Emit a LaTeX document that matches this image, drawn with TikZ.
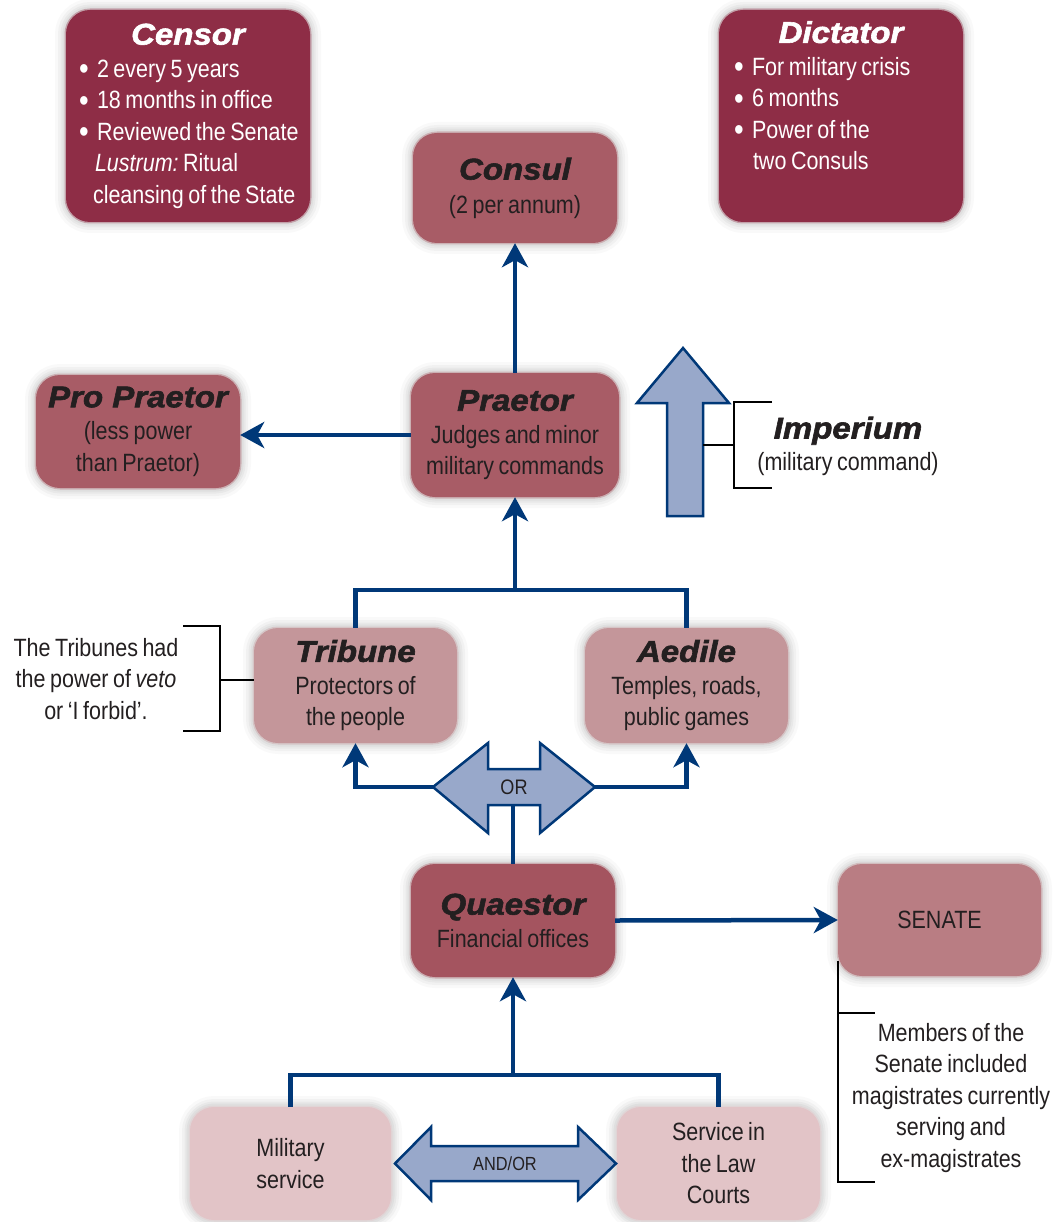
\documentclass[tikz,border=0pt]{standalone}
\usepackage{fontspec}
\setmainfont{Liberation Sans}[FakeStretch=0.86,WordSpace=0.76]
\newfontfamily\headfont{Liberation Sans}[FakeStretch=1.1,FakeBold=2]
\usetikzlibrary{arrows.meta,calc}
\frenchspacing

\definecolor{crimson}{HTML}{8E2D46}
\definecolor{rose}{HTML}{A85C66}
\definecolor{roseq}{HTML}{A4545F}
\definecolor{pinkmid}{HTML}{C4969A}
\definecolor{senatec}{HTML}{B97D83}
\definecolor{pinklight}{HTML}{E2C4C7}
\definecolor{navy}{HTML}{003878}
\definecolor{slate}{HTML}{98A8CA}
\definecolor{ink}{HTML}{231F20}

\newcommand{\hd}[1]{{\headfont\bfseries\itshape\fontsize{30}{34}\selectfont #1}}
\newcommand{\bodyfs}{\fontsize{25}{31.5}\selectfont}
\newcommand{\bul}{\makebox[18pt][l]{\raisebox{-2.5pt}{\fontsize{32}{31}\selectfont\textbullet}}}

\begin{document}
\begin{tikzpicture}[x=1pt,y=-1pt,
  halo/.style={
    preaction={draw=black, draw opacity=0.025, line width=22pt},
    preaction={draw=black, draw opacity=0.03, line width=16pt},
    preaction={draw=black, draw opacity=0.035, line width=11pt},
    preaction={draw=black, draw opacity=0.04, line width=7pt}},
  magbox/.style={halo, preaction={draw=#1, draw opacity=0.35, line width=3pt},
    fill=#1, rectangle, rounded corners=24pt, inner sep=0pt,
    align=center, text=ink, font=\bodyfs},
  navyline/.style={draw=navy, line width=4.5pt},
  conn/.style={navyline, -{Stealth[length=24pt,width=26pt,inset=7pt]}},
  bracket/.style={draw=black, line width=2.2pt},
  blockarrow/.style={draw=navy, fill=slate, line width=2.5pt, line join=miter},
  note/.style={align=center, text=ink, font=\bodyfs, inner sep=0pt}]
\useasboundingbox (0,0) rectangle (1056,1222);

% ---- offices ----
\node[magbox=crimson, text=white, minimum width=244pt, minimum height=212pt,
      text width=240pt, align=left] (censor) at (188,116)
  {\spaceskip=0pt\xspaceskip=0pt\relax
   \hfill\hd{Censor}\hfill\null\\[1pt]
   \hspace*{11pt}\bul 2 every 5 years\\
   \hspace*{11pt}\bul 18 months in office\\
   \hspace*{11pt}\bul Reviewed the Senate\\
   \hspace*{27pt}\textit{Lustrum:} Ritual\\
   \hspace*{25pt}cleansing of the State};

\node[magbox=crimson, text=white, minimum width=244pt, minimum height=212pt,
      text width=240pt, align=left] (dictator) at (841,116)
  {\spaceskip=0pt\xspaceskip=0pt\relax
   \hfill\hd{Dictator}\hfill\null\\[1pt]
   \hspace*{13pt}\bul For military crisis\\
   \hspace*{13pt}\bul 6 months\\
   \hspace*{13pt}\bul Power of the\\
   \hspace*{32pt}two Consuls\\
   \strut};

\node[magbox=rose, minimum width=204pt, minimum height=110pt] (consul) at (515,188)
  {\hd{Consul}\\[2pt](2 per annum)};

\node[magbox=rose, minimum width=208pt, minimum height=124pt] (praetor) at (515,435)
  {\hd{Praetor}\\[1pt]Judges and minor\\military commands};

\node[magbox=rose, minimum width=204pt, minimum height=113pt] (propraetor) at (138,431.5)
  {\hd{Pro Praetor}\\[1pt](less power\\than Praetor)};

\node[magbox=pinkmid, minimum width=203pt, minimum height=115pt] (tribune) at (355.5,685.5)
  {\hd{Tribune}\\[1pt]Protectors of\\the people};

\node[magbox=pinkmid, minimum width=203pt, minimum height=115pt] (aedile) at (686.5,685.5)
  {\hd{Aedile}\\[1pt]Temples, roads,\\public games};

\node[magbox=roseq, minimum width=204pt, minimum height=113pt] (quaestor) at (513,920.5)
  {\hd{Quaestor}\\[1pt]Financial offices};

\node[magbox=senatec, minimum width=203pt, minimum height=112pt] (senate) at (939.5,920)
  {SENATE};

\node[magbox=pinklight, minimum width=201pt, minimum height=113pt] (military) at (290.5,1163.5)
  {Military\\service};

\node[magbox=pinklight, minimum width=203pt, minimum height=113pt] (courts) at (718.5,1163.5)
  {Service in\\the Law\\Courts};

% ---- connectors ----
\coordinate (upfork) at (515,590);
\coordinate (lowfork) at (513,1075);
\coordinate (orL) at (433,787);
\coordinate (orR) at (595,787);
\coordinate (orB) at (513,805);

\draw[conn] (praetor.north) -- (consul.south);
\draw[conn] (praetor.west) -- (praetor.west -| propraetor.east);
\draw[navyline] (tribune.north) |- (upfork) -| (aedile.north);
\draw[conn] (upfork) -- (praetor.south);
\draw[conn] (orL) -| (tribune.south);
\draw[conn] (orR) -| (aedile.south);
\draw[navyline] (quaestor.north) -- (orB);
\draw[conn] (quaestor.east) -- (senate.west);
\draw[navyline] (military.north) |- (lowfork) -| (courts.north);
\draw[conn] (lowfork) -- (quaestor.south);

% ---- block arrows ----
\draw[blockarrow] (667,516) -- (667,403) -- (637,403) -- (683,348) -- (729,403)
  -- (703,403) -- (703,516) -- cycle;
\draw[blockarrow] (433,787) -- (488,743) -- (488,769) -- (540,769) -- (540,743)
  -- (595,787) -- (540,833) -- (540,805) -- (488,805) -- (488,833) -- cycle;
\node[note, font=\fontsize{21}{24}\selectfont] (ortext) at (514,787) {OR};
\draw[blockarrow] (395,1163.5) -- (431,1127) -- (431,1146) -- (578,1146) -- (578,1127)
  -- (616,1163.5) -- (578,1200) -- (578,1181) -- (431,1181) -- (431,1200) -- cycle;
\node[note, font=\fontsize{19}{23}\selectfont] (andor) at (505,1163.5) {AND/OR};

% ---- side notes ----
\draw[bracket] (772,402) -- (734,402) -- (734,488) -- (772,488);
\draw[bracket] (703,445) -- (734,445);
\node[note] (imperium) at (848,446) {\hd{Imperium}\\[0pt](military command)};

\draw[bracket] (183,626) -- (220,626) -- (220,731) -- (183,731);
\draw[bracket] (220,680) -- (tribune.west |- 0,680);
\node[note] (tribnote) at (96,679)
  {The Tribunes had\\the power of \textit{veto}\\or ‘I forbid’.};

\draw[bracket] (838,961) -- (838,1182) -- (875,1182);
\draw[bracket] (838,1013) -- (875,1013);
\node[note] (senatenote) at (951,1098)
  {Members of the\\Senate included\\magistrates currently\\serving and\\ex-magistrates};

\end{tikzpicture}
\end{document}
